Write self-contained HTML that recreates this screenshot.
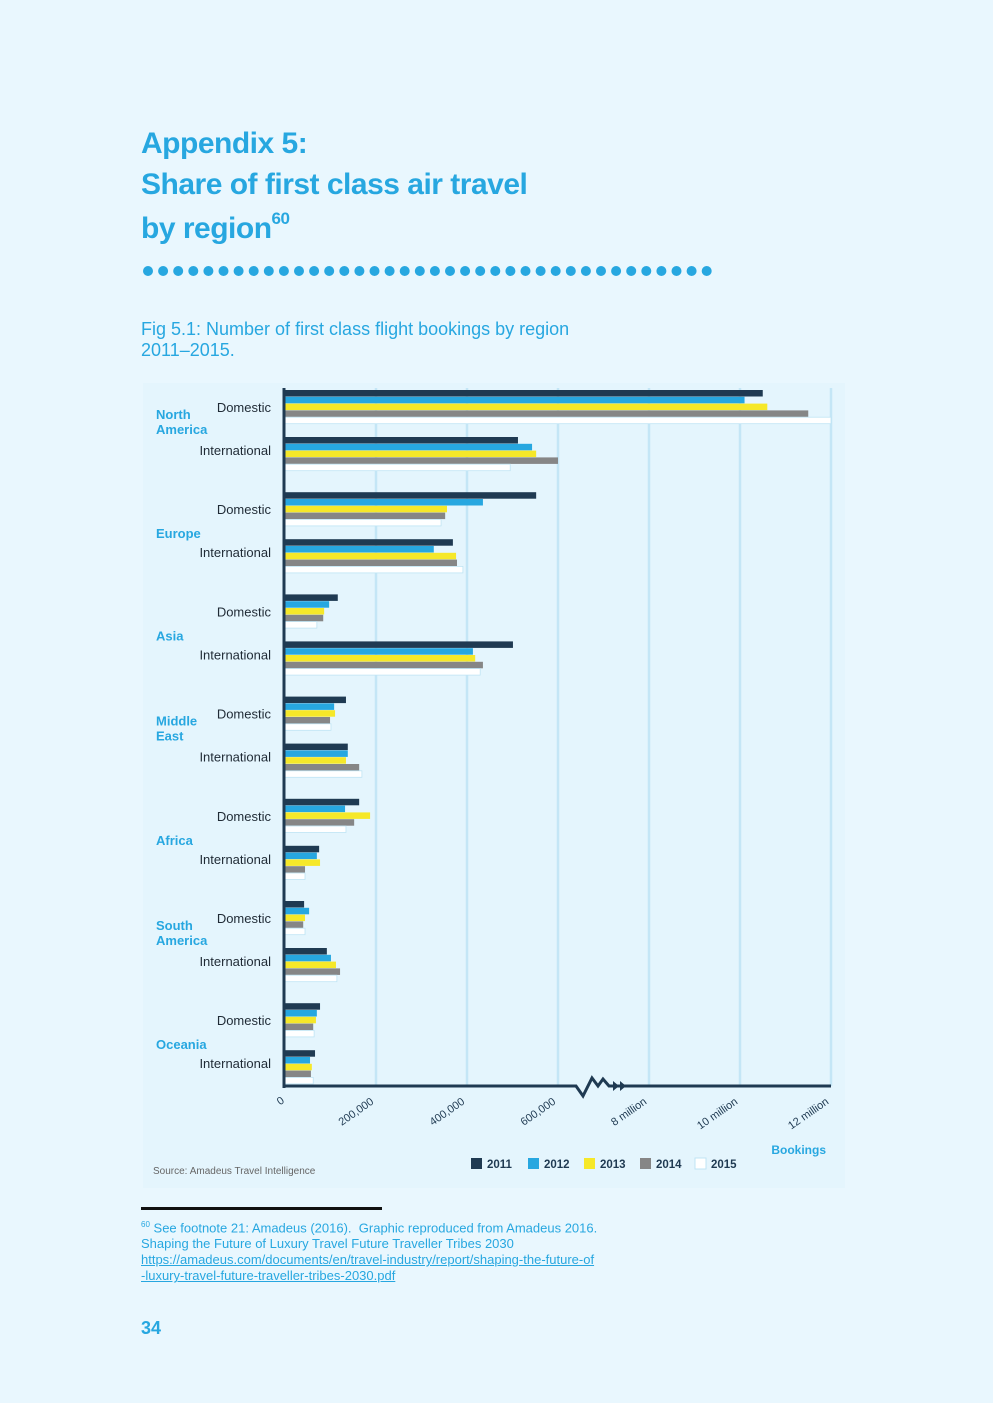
<!DOCTYPE html>
<html><head><meta charset="utf-8">
<style>
body{margin:0;background:#e9f7fe;font-family:"Liberation Sans",sans-serif;}
#page{position:relative;width:993px;height:1403px;overflow:hidden;background:#e9f7fe;}
.t{position:absolute;left:141px;color:#27a7e0;font-weight:bold;font-size:30px;letter-spacing:-0.5px;white-space:nowrap;}
.cap{position:absolute;left:141px;color:#27a7e0;font-size:18px;white-space:nowrap;}
.fn{position:absolute;left:141px;color:#27a7e0;font-size:13px;white-space:nowrap;line-height:16px;}
</style></head><body>
<div id="page">
<div class="t" style="top:127px">Appendix 5:</div>
<div class="t" style="top:168px">Share of first class air travel</div>
<div class="t" style="top:209px">by region<sup style="font-size:17px;vertical-align:14px">60</sup></div>
<svg style="position:absolute;left:0;top:0" width="993" height="300">
<g id="dots" fill="#27a7e0"></g></svg>
<div class="cap" style="top:319px">Fig 5.1: Number of first class flight bookings by region<br>2011–2015.</div>

<svg id="chart" style="position:absolute;left:0;top:0" width="993" height="1200" font-family="Liberation Sans, sans-serif">
<rect x="143" y="383" width="702" height="805" fill="#e4f5fd"/>
<g id="grid"></g><g id="bars"></g><g id="labels"></g><g id="axes"></g>
</svg>

<div style="position:absolute;left:141px;top:1207px;width:241px;height:3px;background:#111"></div>
<div class="fn" style="top:1217px"><sup style="font-size:8px">60</sup> See footnote 21: Amadeus (2016).&nbsp; Graphic reproduced from Amadeus 2016.<br>Shaping the Future of Luxury Travel Future Traveller Tribes 2030<br><span style="text-decoration:underline">https://amadeus.com/documents/en/travel-industry/report/shaping-the-future-of<br>-luxury-travel-future-traveller-tribes-2030.pdf</span></div>
<div style="position:absolute;left:141px;top:1318px;color:#27a7e0;font-weight:bold;font-size:18px">34</div>
</div>
<script>
const regions=["North America","Europe","Asia","Middle East","Africa","South America","Oceania"];
const years=["2011","2012","2013","2014","2015"];
const colors=["#1f3a52","#27a7e0","#f6e829","#868686","#ffffff"];
const tickValues=[0,200000,400000,600000,8000000,10000000,12000000];
const tickLabels=["0","200,000","400,000","600,000","8 million","10 million","12 million"];
// domestic/international values, per year [2011..2015]
const naDom=[10500000,10100000,10600000,11500000,12000000];
const naIntl=[512000,543000,552000,600000,495000];
const euDom=[552000,435000,356000,352000,343000];
const euIntl=[369000,327000,376000,378000,391000];
const asDom=[116000,97000,86000,84000,70000];
const asIntl=[501000,413000,418000,435000,429000];
const meDom=[134000,108000,110000,99000,101000];
const meIntl=[138000,138000,134000,163000,169000];
const afDom=[163000,132000,187000,152000,134000];
const afIntl=[75000,70000,77000,44000,44000];
const saDom=[42000,53000,44000,40000,44000];
const saIntl=[92000,101000,112000,121000,114000];
const ocDom=[77000,70000,68000,62000,64000];
const ocIntl=[66000,55000,59000,57000,62000];
const series=[[naDom,naIntl],[euDom,euIntl],[asDom,asIntl],[meDom,meIntl],[afDom,afIntl],[saDom,saIntl],[ocDom,ocIntl]];

const NS="http://www.w3.org/2000/svg";
const X0=285,STEP=91;
function xScale(v){
  if(v<=600000) return X0+v/200000*STEP;
  if(v<=8000000) return X0+3*STEP+(v-600000)/7400000*STEP;
  return X0+4*STEP+(v-8000000)/2000000*STEP;
}
function mk(tag,attrs,parent){const e=document.createElementNS(NS,tag);for(const k in attrs)e.setAttribute(k,attrs[k]);parent.appendChild(e);return e;}

// dots
const dg=document.getElementById('dots');
for(let i=0;i<38;i++){const c=mk('circle',{cx:148+i*15.1,cy:271,r:5},dg);

}

const grid=document.getElementById('grid'),bars=document.getElementById('bars'),labels=document.getElementById('labels'),axes=document.getElementById('axes');
tickValues.forEach((v,i)=>{
  const x=xScale(v);
  if(i>0){const l=mk('line',{x1:x,y1:388,x2:x,y2:1086,stroke:'#c4e6f6','stroke-width':2.5},grid);
  
  }
  const t=mk('text',{x:x+(i==0?0:-2),y:1102,'font-size':11,fill:'#1f3a52','text-anchor':'end',transform:`rotate(-35 ${x} 1102)`},axes);
  t.textContent=tickLabels[i];
  
  
});
const BH=6.8;
series.forEach((pair,ri)=>{
  const base=390+ri*102.2;
  const lines=regions[ri].split(' ');
  const rl=mk('text',{x:156,y:base+(lines.length>1?29:46),'font-size':13,'font-weight':'bold',fill:'#27a7e0'},labels);
  
  
  lines.forEach((w,k)=>{const ts=mk('tspan',{x:156,dy:k?15:0},rl);ts.textContent=w;});
  pair.forEach((vals,ti)=>{
    const top=base+ti*47;
    const lab=mk('text',{x:271,y:top+(ti?18:22),'font-size':13,fill:'#1f2a35','text-anchor':'end'},labels);
    lab.textContent=ti?'International':'Domestic';
    
    
    vals.forEach((v,yi)=>{
      const r=mk('rect',{x:X0,y:top+yi*BH,width:Math.max(0,xScale(v)-X0),height:BH-0.3,fill:colors[yi]},bars);
      if(yi==4){r.setAttribute('stroke','#bfe4f4');r.setAttribute('stroke-width','0.8');}
      
      
    });
  });
});
// axes
const ya=mk('line',{x1:284,y1:388,x2:284,y2:1088,stroke:'#1f3a52','stroke-width':3},axes);


const xa=mk('path',{d:'M284 1086 H576 L583 1096 L592 1078 L598 1086 L603 1079 L609 1086 H831',fill:'none',stroke:'#1f3a52','stroke-width':3,'stroke-linejoin':'miter'},axes);


const ar=mk('path',{d:'M613 1081 L619 1086 L613 1091 Z M620 1081 L626 1086 L620 1091 Z',fill:'#1f3a52'},axes);


const bk=mk('text',{x:826,y:1154,'font-size':12,'font-weight':'bold',fill:'#27a7e0','text-anchor':'end'},axes);
bk.textContent='Bookings';


const src=mk('text',{x:153,y:1174,'font-size':10,fill:'#666'},axes);
src.textContent='Source: Amadeus Travel Intelligence';


const lx=[471,528,584,640,695];
years.forEach((y,i)=>{
  const g=mk('g',{},axes);
  
  
  mk('rect',{x:lx[i],y:1158,width:11,height:11,fill:colors[i],stroke:i==4?'#bfe4f4':'none'},g);
  const t=mk('text',{x:lx[i]+16,y:1168,'font-size':11.5,'font-weight':'bold',fill:'#1f3a52'},g);
  t.textContent=y;
});
</script>
</body></html>
